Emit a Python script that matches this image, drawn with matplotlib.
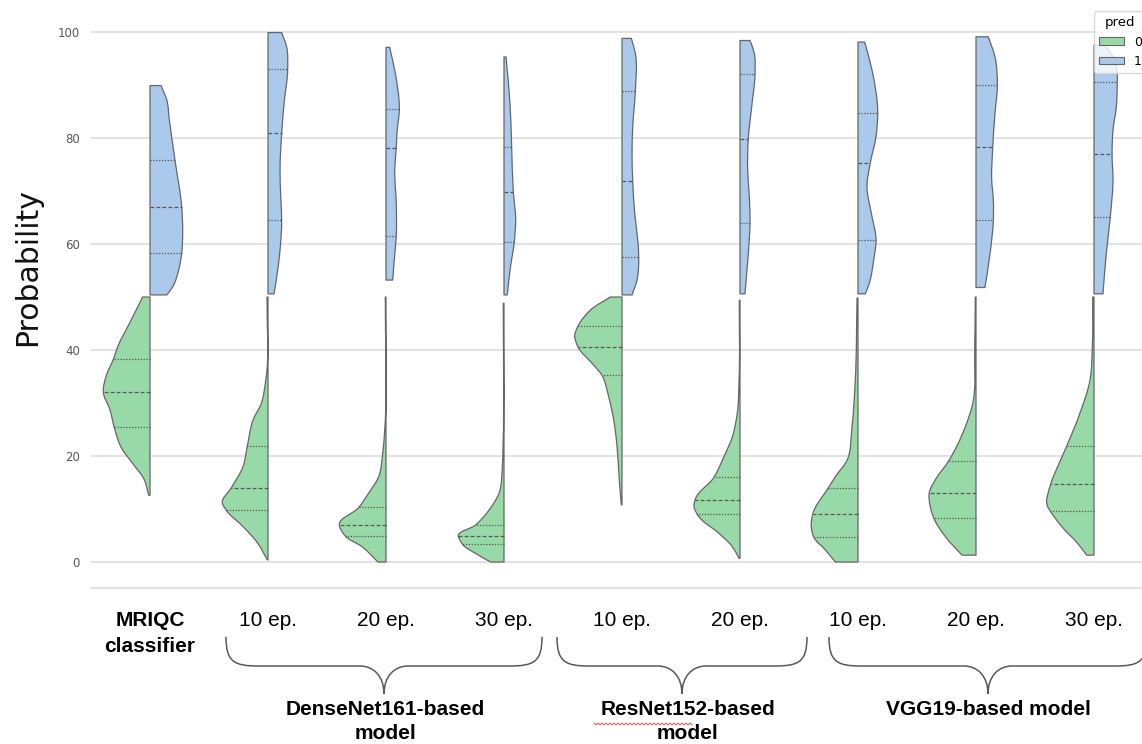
import numpy as np
import matplotlib
matplotlib.use("Agg")
import matplotlib.pyplot as plt
from matplotlib.path import Path
from matplotlib.patches import PathPatch, Patch

# ---------------- data ----------------
categories = ["MRIQC\nclassifier", "10 ep.", "20 ep.", "30 ep.", "10 ep.",
              "20 ep.", "10 ep.", "20 ep.", "30 ep."]
groups = ["DenseNet161-based\nmodel", "ResNet152-based\nmodel", "VGG19-based model"]
hue_labels = ["0", "1"]
yticks = [0, 20, 40, 60, 80, 100]

# density profile of each half violin: probability levels and half-widths
# (half-width in units of category spacing), pred = 0
pred0_levels = [
    [12.6, 15.5, 18.6, 21.7, 25.4, 28.7, 32.1, 35.0, 38.4, 40.6, 45.0, 50.0],
    [0.4, 3.5, 6.7, 9.9, 11.1, 14.0, 18.0, 21.9, 26.8, 29.9, 34.3, 50.0],
    [0.0, 2.9, 4.9, 7.0, 10.3, 13.0, 16.1, 20.5, 24.9, 50.0],
    [0.0, 1.6, 3.4, 4.9, 7.0, 9.8, 13.0, 18.0, 21.8, 48.8],
    [10.8, 15.5, 21.8, 26.8, 31.2, 35.2, 37.5, 40.6, 42.8, 44.5, 47.5, 50.0],
    [0.7, 2.9, 5.4, 9.0, 10.4, 11.7, 16.0, 19.9, 23.6, 28.1, 34.3, 49.4],
    [0.0, 2.3, 4.7, 6.7, 9.0, 13.9, 16.1, 19.2, 25.5, 34.3, 49.8],
    [1.3, 4.8, 8.3, 10.4, 13.1, 15.5, 19.1, 25.5, 29.3, 40.6, 50.0],
    [1.3, 3.5, 6.7, 9.7, 10.4, 14.7, 18.0, 21.9, 28.1, 34.3, 40.6, 50.0],
]
pred0_widths = [
    [0.011, 0.048, 0.147, 0.246, 0.303, 0.339, 0.396, 0.373, 0.308, 0.274, 0.175, 0.062],
    [0.006, 0.085, 0.212, 0.358, 0.387, 0.311, 0.212, 0.175, 0.127, 0.057, 0.019, 0.008],
    [0.068, 0.203, 0.345, 0.396, 0.231, 0.147, 0.062, 0.028, 0.011, 0.006],
    [0.113, 0.240, 0.353, 0.387, 0.240, 0.127, 0.042, 0.014, 0.008, 0.006],
    [0.006, 0.023, 0.042, 0.070, 0.113, 0.169, 0.254, 0.373, 0.401, 0.373, 0.269, 0.099],
    [0.008, 0.065, 0.178, 0.362, 0.390, 0.381, 0.220, 0.136, 0.065, 0.023, 0.008, 0.006],
    [0.192, 0.277, 0.375, 0.396, 0.384, 0.254, 0.192, 0.093, 0.051, 0.023, 0.008],
    [0.119, 0.260, 0.358, 0.387, 0.396, 0.345, 0.231, 0.091, 0.034, 0.011, 0.006],
    [0.062, 0.138, 0.274, 0.373, 0.392, 0.367, 0.308, 0.231, 0.119, 0.034, 0.014, 0.011],
]
pred0_quartiles = [
    [25.4, 32.1, 38.4], [9.9, 14.0, 21.9], [4.9, 7.0, 10.3],
    [3.4, 4.9, 7.0], [35.2, 40.6, 44.5], [9.0, 11.7, 16.0],
    [4.7, 9.0, 13.9], [8.3, 13.1, 19.1], [9.7, 14.7, 21.9],
]

# pred = 1
pred1_levels = [
    [50.4, 51.9, 55.1, 58.4, 62.5, 66.9, 75.8, 83.4, 87.2, 89.9],
    [50.6, 53.2, 58.2, 64.5, 68.9, 74.0, 81.0, 86.5, 93.1, 97.2, 99.9],
    [53.2, 57.0, 61.5, 67.7, 74.0, 78.1, 80.9, 85.5, 92.2, 97.1],
    [50.4, 55.1, 60.4, 64.5, 69.8, 78.3, 86.5, 95.3],
    [50.4, 53.2, 57.5, 60.8, 65.8, 71.8, 77.1, 82.1, 88.9, 96.0, 98.8],
    [50.6, 54.5, 58.2, 64.0, 68.9, 74.0, 79.9, 85.9, 92.1, 96.0, 98.4],
    [50.6, 52.6, 57.0, 60.8, 65.8, 70.8, 75.3, 80.3, 84.8, 92.8, 98.1],
    [51.8, 58.2, 64.5, 68.3, 72.1, 78.3, 84.7, 90.0, 95.3, 99.1],
    [50.6, 58.2, 65.1, 72.1, 76.9, 81.5, 85.9, 90.6, 92.2, 95.0, 97.5],
]
pred1_widths = [
    [0.142, 0.192, 0.243, 0.269, 0.277, 0.269, 0.212, 0.164, 0.142, 0.093],
    [0.051, 0.070, 0.099, 0.116, 0.108, 0.102, 0.116, 0.136, 0.167, 0.158, 0.116],
    [0.057, 0.070, 0.087, 0.087, 0.074, 0.087, 0.093, 0.113, 0.079, 0.031],
    [0.028, 0.051, 0.087, 0.099, 0.079, 0.065, 0.051, 0.017],
    [0.085, 0.127, 0.142, 0.133, 0.108, 0.091, 0.085, 0.091, 0.113, 0.113, 0.079],
    [0.042, 0.057, 0.070, 0.085, 0.079, 0.065, 0.070, 0.099, 0.127, 0.121, 0.085],
    [0.062, 0.096, 0.133, 0.153, 0.113, 0.076, 0.104, 0.153, 0.167, 0.119, 0.057],
    [0.076, 0.119, 0.147, 0.147, 0.133, 0.142, 0.161, 0.181, 0.161, 0.104],
    [0.076, 0.104, 0.138, 0.161, 0.153, 0.161, 0.189, 0.197, 0.197, 0.169, 0.093],
]
pred1_quartiles = [
    [58.4, 66.9, 75.8], [64.5, 81.0, 93.1], [61.5, 78.1, 85.5],
    [60.4, 69.8, 78.3], [57.5, 71.8, 88.9], [64.0, 79.9, 92.1],
    [60.8, 75.3, 84.8], [64.5, 78.3, 90.0], [65.1, 76.9, 90.6],
]

# ---------------- style ----------------
GREEN = "#98daa7"
BLUE = "#abc9ea"
EDGE = "#666666"
INNER = "#555555"
GRID = "#dadada"

W, H = 1142, 744
fig = plt.figure(figsize=(W / 100, H / 100), dpi=100)
fig.patch.set_facecolor("white")

# axes in pixel geometry (right side runs past the cropped edge, like the reference)
ax_l, ax_r, ax_t, ax_b = 91, 1153, 5, 588
ax = fig.add_axes([ax_l / W, 1 - ax_b / H, (ax_r - ax_l) / W, (ax_b - ax_t) / H])
ax.set_facecolor("white")
ax.set_xlim(-0.5, len(categories) - 0.5)
ax.set_ylim(-4.9, 105.1)

# display scale of one data unit (for a smooth, evenly parametrised outline)
_o = ax.transData.transform((0, 0))
_u = ax.transData.transform((1, 1))
SX, SY = abs(_u[0] - _o[0]), abs(_u[1] - _o[1])


def bezier_through(xs, ys):
    P = np.column_stack([xs, ys]).astype(float)
    S = P * np.array([SX, SY])
    d = np.sqrt(((S[1:] - S[:-1]) ** 2).sum(axis=1))
    d = np.maximum(d, 1e-6)
    n = len(P)
    M = np.zeros_like(P)
    for i in range(n):
        if i == 0:
            M[i] = (P[1] - P[0]) / d[0]
        elif i == n - 1:
            M[i] = (P[-1] - P[-2]) / d[-1]
        else:
            a = (P[i] - P[i - 1]) / d[i - 1]
            b = (P[i + 1] - P[i]) / d[i]
            M[i] = (a * d[i] + b * d[i - 1]) / (d[i - 1] + d[i])
    verts, codes = [tuple(P[0])], [Path.LINETO]
    for i in range(n - 1):
        h = d[i]
        c1 = P[i] + M[i] * h / 3.0
        c2 = P[i + 1] - M[i + 1] * h / 3.0
        verts += [tuple(c1), tuple(c2), tuple(P[i + 1])]
        codes += [Path.CURVE4] * 3
    return verts, codes


def draw_half(pos, levels, widths, quartiles, side, color):
    levels = np.asarray(levels, float)
    widths = np.asarray(widths, float)
    xs = pos + side * widths
    ev, ec = bezier_through(xs, levels)
    verts = [(pos, levels[0])] + ev + [(pos, levels[-1]), (pos, levels[0])]
    codes = [Path.MOVETO] + ec + [Path.LINETO, Path.CLOSEPOLY]
    patch = PathPatch(Path(verts, codes), facecolor=color, edgecolor=EDGE,
                      lw=0.9, zorder=3, joinstyle="round")
    ax.add_patch(patch)
    for q, ls in zip(quartiles, [(0, (1.0, 1.3)), (0, (3.0, 1.8)), (0, (1.0, 1.3))]):
        w = np.interp(q, levels, widths)
        ax.plot([pos, pos + side * w], [q, q], color=INNER, lw=0.9, ls=ls,
                zorder=4, solid_capstyle="butt", dash_capstyle="butt")


for i in range(len(categories)):
    draw_half(i, pred0_levels[i], pred0_widths[i], pred0_quartiles[i], -1, GREEN)
    draw_half(i, pred1_levels[i], pred1_widths[i], pred1_quartiles[i], +1, BLUE)

ax.set_yticks(yticks)
ax.set_yticklabels([str(t) for t in yticks])
ax.yaxis.grid(True, color=GRID, lw=1.1, zorder=0)
ax.xaxis.grid(False)
ax.set_axisbelow(True)
for s in ["left", "right", "top"]:
    ax.spines[s].set_visible(False)
ax.spines["bottom"].set_color(GRID)
ax.spines["bottom"].set_linewidth(1.1)
ax.tick_params(axis="y", length=0, pad=8, labelsize=8.5, labelcolor="#555555")
ax.tick_params(axis="x", length=0, pad=16.5)

ax.set_xticks(range(len(categories)))
ax.set_xticklabels(categories, fontsize=15, family="Liberation Sans", color="black")
lab0 = ax.get_xticklabels()[0]
lab0.set_fontweight("bold")
lab0.set_linespacing(1.45)

ax.set_ylabel("Probability", fontsize=21.5, color="#111111")
ax.yaxis.set_label_coords(-0.046, 0.55)

leg = ax.legend(handles=[Patch(facecolor=GREEN, edgecolor=EDGE, lw=0.8),
                         Patch(facecolor=BLUE, edgecolor=EDGE, lw=0.8)],
                labels=hue_labels, title="pred", loc="upper right",
                fontsize=9, title_fontsize=9.5, frameon=True, fancybox=True,
                framealpha=0.8, handleheight=0.55)
leg.get_frame().set_edgecolor("#d0d0d0")
leg.set_zorder(10)

# ---------------- annotation layer (braces and group names) ----------------
ov = fig.add_axes([0, 0, 1, 1])
ov.set_xlim(0, W)
ov.set_ylim(H, 0)
ov.axis("off")
ov.patch.set_visible(False)


def brace(x0, x1, yt=637, ym=666, yb=694, r=32, r2=24):
    xc = (x0 + x1) / 2.0
    verts = [
        (x0, yt),
        (x0, yt + (ym - yt) * 0.85), (x0 + r * 0.25, ym), (x0 + r, ym),
        (xc - r2, ym),
        (xc - r2 * 0.45, ym), (xc, ym + (yb - ym) * 0.35), (xc, yb),
        (xc, ym + (yb - ym) * 0.35), (xc + r2 * 0.45, ym), (xc + r2, ym),
        (x1 - r, ym),
        (x1 - r * 0.25, ym), (x1, yt + (ym - yt) * 0.85), (x1, yt),
    ]
    codes = [Path.MOVETO, Path.CURVE4, Path.CURVE4, Path.CURVE4, Path.LINETO,
             Path.CURVE4, Path.CURVE4, Path.CURVE4, Path.CURVE4, Path.CURVE4,
             Path.CURVE4, Path.LINETO, Path.CURVE4, Path.CURVE4, Path.CURVE4]
    ov.add_patch(PathPatch(Path(verts, codes), facecolor="none",
                           edgecolor="#595959", lw=1.1))
    return xc


brace_spans = [(226, 542), (557, 807), (829, 1147)]
label_x = [385, 688, 988]
for (x0, x1), gx, g in zip(brace_spans, label_x, groups):
    brace(x0, x1)
    ov.text(gx, 700, g, ha="center", va="top", fontsize=15, fontweight="bold",
            family="Liberation Sans", linespacing=1.35, color="black")

# spell-check squiggle under "ResNet152"
sx = np.arange(594, 694, 2.0)
sy = 724 + np.where((np.arange(len(sx)) % 2) == 0, -1.0, 1.0)
ov.plot(sx, sy, color="#e05050", lw=0.7)

fig.savefig("out.png", dpi=100, facecolor="white")
